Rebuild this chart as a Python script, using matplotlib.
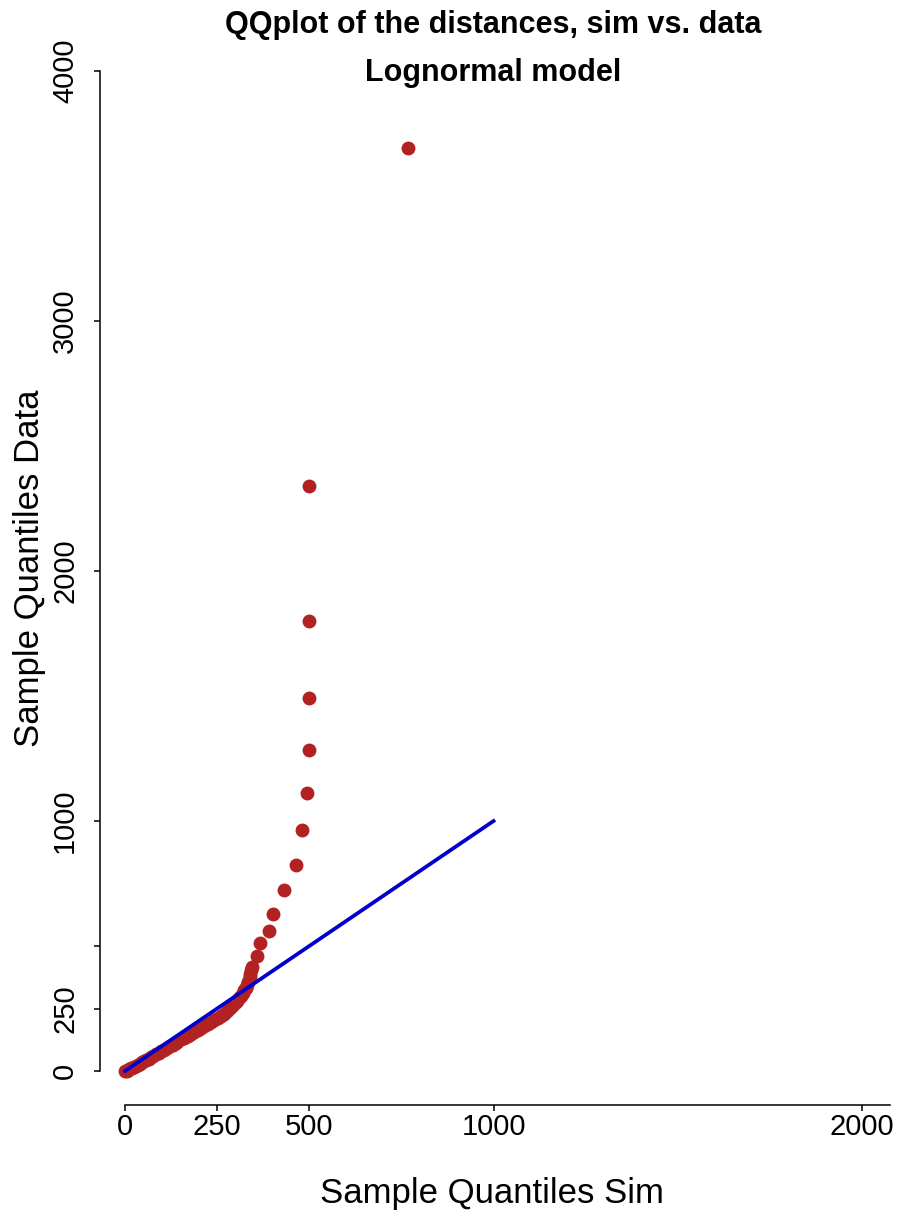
import matplotlib
matplotlib.use('Agg')
import matplotlib.pyplot as plt

plt.rcParams['font.family'] = ['Liberation Sans', 'DejaVu Sans']

# quantiles (sim on x, data on y)
sim_q = [0, 4, 8, 12, 16, 20, 25, 30, 35, 40, 46, 52, 58, 64, 70, 77, 84, 91,
         98, 105, 113, 121, 129, 137, 145, 153, 161, 170, 179, 188, 197, 206,
         215, 224, 233, 242, 251, 260, 268, 276, 284, 291, 298, 304, 310, 315,
         320, 324, 328, 331, 334, 336, 338, 340, 342, 344,
         357, 366, 391, 402, 432, 463, 479, 493, 499, 499, 499, 499, 768]
data_q = [0, 2, 5, 8, 11, 14, 18, 22, 26, 30, 35, 40, 45, 50, 55, 61, 67, 73,
          79, 85, 92, 99, 106, 113, 120, 127, 134, 142, 150, 158, 166, 174,
          182, 190, 198, 206, 214, 222, 230, 240, 252, 262, 272, 282, 292, 302,
          314, 324, 334, 344, 356, 366, 378, 390, 404, 418,
          461, 513, 561, 628, 723, 823, 964, 1112, 1284, 1492, 1800, 2340, 3692]

ref_x = [0, 1000]
ref_y = [0, 1000]

x_ticks = [0, 250, 500, 1000, 2000]
y_ticks = [0, 250, 500, 1000, 2000, 3000, 4000]
y_labels = ['0', '250', '', '1000', '2000', '3000', '4000']

fig = plt.figure(figsize=(8.99, 12.13), dpi=100)
ax = fig.add_axes([100 / 899, 108 / 1213, 791.5 / 899, 1074 / 1213])

ax.plot(sim_q, data_q, 'o', color='#B22222', markersize=10,
        markeredgewidth=0, clip_on=False, zorder=2)
ax.plot(ref_x, ref_y, color='#0000CD', linewidth=2.7, zorder=3)

ax.set_xlim(-68, 2080)
ax.set_ylim(-136, 4160)

for s in ['top', 'right']:
    ax.spines[s].set_visible(False)
ax.spines['left'].set_bounds(0, 4000)
ax.spines['bottom'].set_bounds(0, 2076)
ax.spines['left'].set_linewidth(1.1)
ax.spines['bottom'].set_linewidth(1.1)

ax.set_xticks(x_ticks)
ax.set_xticklabels([str(t) for t in x_ticks], fontsize=21)
ax.set_yticks(y_ticks)
ax.set_yticklabels(y_labels, fontsize=21, rotation=90, va='center')
ax.tick_params(axis='both', direction='out', length=4, width=1.1)
ax.tick_params(axis='x', pad=1.5)
ax.tick_params(axis='y', pad=11)

fig.text(493.5 / 899, 1 - 25 / 1213, 'QQplot of the distances, sim vs. data',
         ha='center', va='center', fontsize=22, fontweight='bold')
fig.text(493.5 / 899, 1 - 73 / 1213, 'Lognormal model',
         ha='center', va='center', fontsize=22, fontweight='bold')
fig.text(491.5 / 899, 1 - 1193 / 1213, 'Sample Quantiles Sim',
         ha='center', va='center', fontsize=25)
fig.text(30 / 899, 1 - 568 / 1213, 'Sample Quantiles Data',
         ha='center', va='center', fontsize=25, rotation=90)

fig.savefig('out.png', dpi=100)
